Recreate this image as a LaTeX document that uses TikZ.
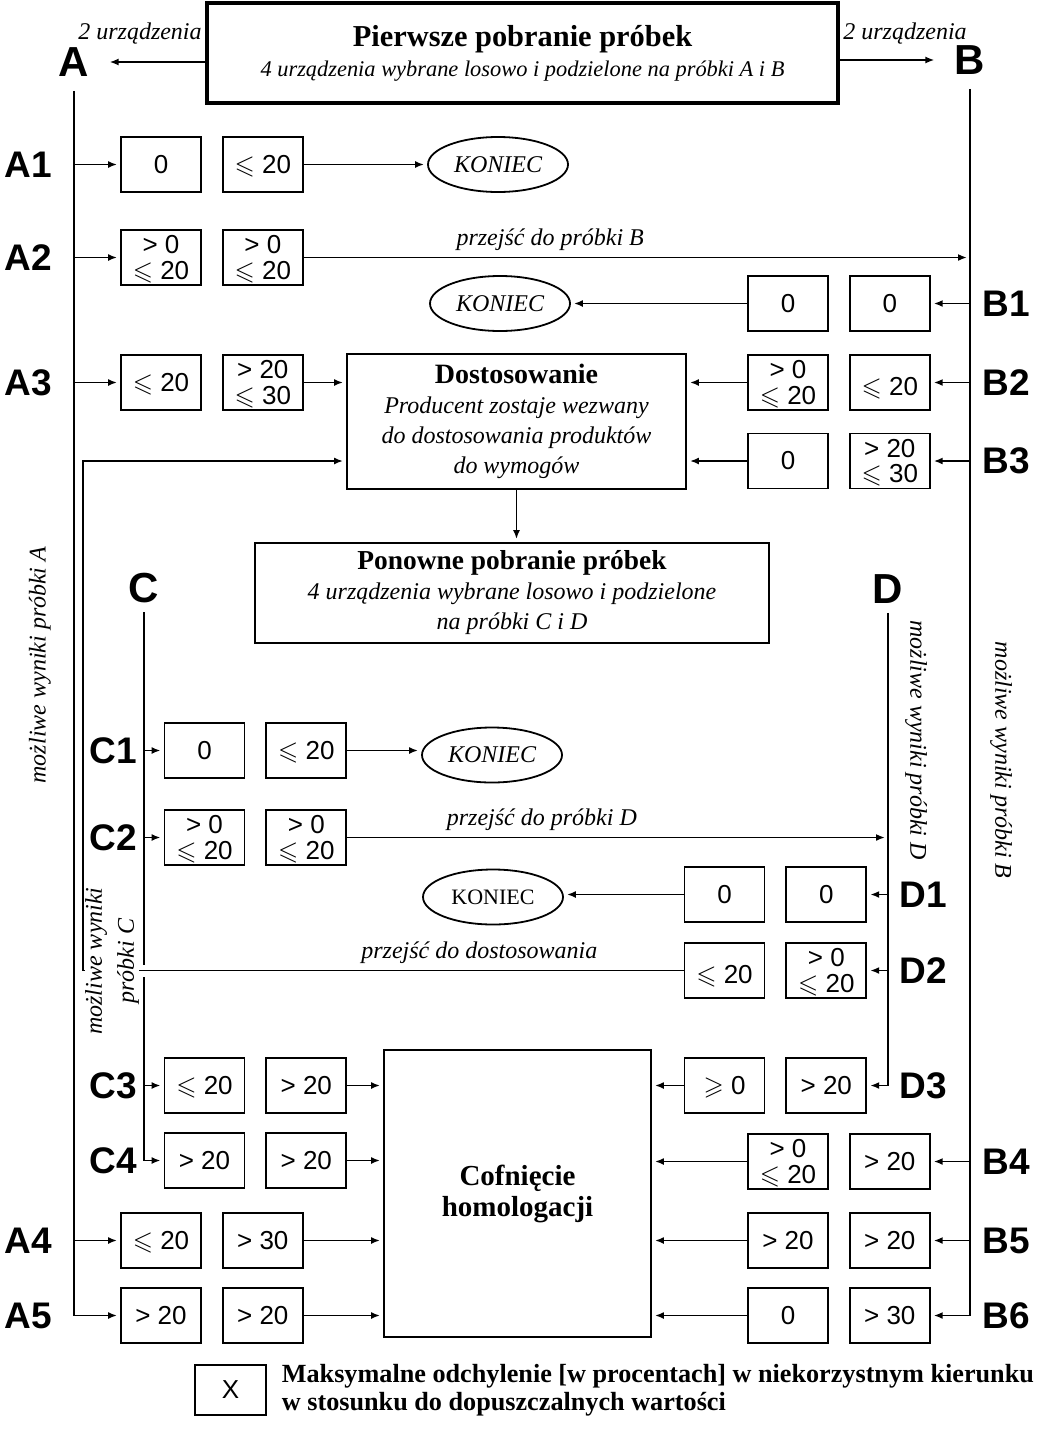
\documentclass[tikz,border=0pt]{standalone}
\usepackage{amsmath,amssymb}
\usepackage{fontspec}
\setmainfont{Liberation Serif}
\setsansfont{Liberation Sans}
\usetikzlibrary{arrows.meta, positioning, shapes.geometric}
\newcommand{\atmost}[1]{\smash{$\leqslant$} #1}
\newcommand{\atleast}[1]{\smash{$\geqslant$} #1}
\tikzset{
    valbox/.style={rectangle, draw=black, line width=0.9pt, minimum width=40pt, minimum height=27.5pt, inner sep=1pt, align=center, font=\sffamily\fontsize{13}{12.8}\selectfont},
    bigbox/.style={rectangle, draw=black, line width=0.9pt, align=center, inner sep=2pt, font=\fontsize{12}{15}\selectfont},
    endnode/.style={ellipse, draw=black, line width=0.9pt, minimum width=70pt, minimum height=27.5pt, inner sep=0pt, font=\itshape\fontsize{12}{14}\selectfont},
    rowlbl/.style={font=\sffamily\bfseries\fontsize{18.5}{18.5}\selectfont, inner sep=1pt},
    sample/.style={font=\sffamily\bfseries\fontsize{21}{21}\selectfont, inner sep=1pt},
    note/.style={font=\itshape\fontsize{12}{14}\selectfont, inner sep=1pt},
    sidenote/.style={note, align=center, fill=white, inner sep=0pt, font=\itshape\fontsize{12}{16}\selectfont},
    arrow/.style={-{Latex[length=4.5pt, width=3.5pt]}, line width=0.9pt, shorten >=1.5pt},
    wire/.style={line width=0.9pt}
}

\begin{document}
\begin{tikzpicture}[x=0.5pt, y=-0.5pt, node distance=10pt]
    \useasboundingbox (0,0) rectangle (1037,1441);

    % first sampling
    \node[bigbox, line width=1.8pt, minimum width=315.5pt, minimum height=50pt] (first) at (522.5,53)
        {{\bfseries\fontsize{15.2}{15.5}\selectfont Pierwsze pobranie próbek}\\{\itshape\fontsize{11.2}{15.5}\selectfont 4 urządzenia wybrane losowo i podzielone na próbki A i B}};
    \node[sample] (A) at (74,62) {A};
    \node[sample] (B) at (970,60) {B};
    \node[note] (twoA) at (140,34) {2 urządzenia};
    \node[note] (twoB) at (905,34) {2 urządzenia};
    \draw[arrow, shorten >=9pt] (first.west |- A) -- (A);
    \draw[arrow, shorten >=9pt] (first.east |- B) -- (B);

    % row labels
    \foreach \t/\x/\y in {A1/28/164.5, A2/28/257.5, A3/28/382.5, A4/28/1240.5, A5/28/1315.5,
        B1/1006/303.5, B2/1006/382.5, B3/1006/461, B4/1006/1161.5, B5/1006/1240.5, B6/1006/1315.5,
        C1/113/750.5, C2/113/837.5, C3/113/1085.5, C4/113/1160.5,
        D1/923/894.5, D2/923/970.5, D3/923/1085.5}
        \node[rowlbl] (lbl\t) at (\x,\y) {\t};

    % sample A
    \node[valbox] (a1l) at (161,164.5) {0};
    \node[valbox, right=of a1l] (a1r) {\atmost{20}};
    \node[endnode] (end1) at (498,164.5) {KONIEC};
    \node[valbox] (a2l) at (161,257.5) {> 0\\\atmost{20}};
    \node[valbox, right=of a2l] (a2r) {> 0\\\atmost{20}};
    \node[valbox] (a3l) at (161,382.5) {\atmost{20}};
    \node[valbox, right=of a3l] (a3r) {> 20\\\atmost{30}};
    \node[valbox] (a4l) at (161,1240.5) {\atmost{20}};
    \node[valbox, right=of a4l] (a4r) {> 30};
    \node[valbox] (a5l) at (161,1315.5) {> 20};
    \node[valbox, right=of a5l] (a5r) {> 20};

    % sample B
    \node[valbox] (b1l) at (788,303.5) {0};
    \node[valbox, right=of b1l] (b1r) {0};
    \node[endnode] (end2) at (500,303.5) {KONIEC};
    \node[valbox] (b2l) at (788,382.5) {> 0\\\atmost{20}};
    \node[valbox, right=of b2l] (b2r) {~\\\atmost{20}};
    \node[valbox] (b3l) at (788,461) {0};
    \node[valbox, right=of b3l] (b3r) {> 20\\\atmost{30}};
    \node[valbox] (b4l) at (788,1161.5) {> 0\\\atmost{20}};
    \node[valbox, right=of b4l] (b4r) {> 20};
    \node[valbox] (b5l) at (788,1240.5) {> 20};
    \node[valbox, right=of b5l] (b5r) {> 20};
    \node[valbox] (b6l) at (788,1315.5) {0};
    \node[valbox, right=of b6l] (b6r) {> 30};

    % adjustment and second sampling
    \node[bigbox, minimum width=169.5pt, minimum height=67.5pt] (dost) at (516.5,421.5)
        {{\bfseries\fontsize{14}{15}\selectfont Dostosowanie}\\{\itshape Producent zostaje wezwany}\\{\itshape do dostosowania produktów}\\{\itshape do wymogów}};
    \node[bigbox, minimum width=257pt, minimum height=50pt] (pon) at (512,593)
        {{\bfseries\fontsize{13.7}{15}\selectfont Ponowne pobranie próbek}\\{\itshape 4 urządzenia wybrane losowo i podzielone}\\{\itshape na próbki C i D}};
    \node[bigbox, minimum width=133.5pt, minimum height=143.5pt, font=\bfseries\fontsize{14.5}{15.5}\selectfont] (cof) at (517.5,1193.5)
        {Cofnięcie\\homologacji};
    \node[sample] (C) at (144,588) {C};
    \node[sample] (D) at (888,589) {D};

    % sample C
    \node[valbox] (c1l) at (204.5,750.5) {0};
    \node[valbox, right=of c1l] (c1r) {\atmost{20}};
    \node[endnode] (end3) at (492,755) {KONIEC};
    \node[valbox] (c2l) at (204.5,837.5) {> 0\\\atmost{20}};
    \node[valbox, right=of c2l] (c2r) {> 0\\\atmost{20}};
    \node[valbox] (c3l) at (204.5,1085.5) {\atmost{20}};
    \node[valbox, right=of c3l] (c3r) {> 20};
    \node[valbox] (c4l) at (204.5,1160.5) {> 20};
    \node[valbox, right=of c4l] (c4r) {> 20};

    % sample D
    \node[valbox] (d1l) at (724.5,894.5) {0};
    \node[valbox, right=of d1l] (d1r) {0};
    \node[endnode, font=\fontsize{11}{13}\selectfont] (end4) at (493,897) {KONIEC};
    \node[valbox] (d2l) at (724.5,970.5) {~\\\atmost{20}};
    \node[valbox, right=of d2l] (d2r) {> 0\\\atmost{20}};
    \node[valbox] (d3l) at (724.5,1085.5) {\atleast{0}};
    \node[valbox, right=of d3l] (d3r) {> 20};

    % sample lines
    \draw[arrow] ([yshift=-6pt]A.south) |- (a5l);
    \foreach \r in {a1l,a2l,a3l,a4l}
        \draw[arrow] (A.south |- \r) -- (\r);
    \draw[arrow] ([yshift=-6pt]B.south) |- (b6r);
    \foreach \r in {b1r,b2r,b3r,b4r,b5r}
        \draw[arrow] (B.south |- \r) -- (\r);
    \draw[arrow] ([yshift=-3.5pt]C.south) |- (c4l);
    \foreach \r in {c1l,c2l,c3l}
        \draw[arrow] (C.south |- \r) -- (\r);
    \draw[arrow] ([yshift=-3.5pt]D.south) |- (d3r);
    \foreach \r in {d1r,d2r}
        \draw[arrow] (D.south |- \r) -- (\r);

    % results
    \draw[arrow] (a1r) -- (end1);
    \draw[arrow] (a2r) -- node[note, above, pos=0.37, yshift=2pt] (goB) {przejść do próbki B} (a2r -| B.south);
    \draw[arrow] (b1l) -- (end2);
    \draw[arrow] (a3r) -- (a3r -| dost.west);
    \draw[arrow] (b2l) -- (b2l -| dost.east);
    \draw[arrow] (b3l) -- (b3l -| dost.east);
    \draw[arrow] (dost.south) -- (dost.south |- pon.north);
    \draw[arrow] (c1r) -- (c1r -| end3.west);
    \draw[arrow] (c2r) -- node[note, above, pos=0.36, yshift=2pt] (goD) {przejść do próbki D} (c2r -| D.south);
    \draw[arrow] (d1l) -- (d1l -| end4.east);
    \coordinate (back) at (83,461);
    \draw[arrow, preaction={draw=white, line width=6pt, -, shorten <=2pt}] (d2l) -- node[note, above, pos=0.34, yshift=2pt] (goAdj) {przejść do dostosowania} (d2l -| back) |- (dost.west |- back);
    \foreach \r in {c3r,c4r,a4r,a5r}
        \draw[arrow] (\r) -- (\r -| cof.west);
    \foreach \r in {d3l,b4l,b5l,b6l}
        \draw[arrow] (\r) -- (\r -| cof.east);

    % side notes
    \node[note, rotate=90] (noteA) at (40,665) {możliwe wyniki próbki A};
    \node[note, rotate=-90] (noteB) at (1001,760) {możliwe wyniki próbki B};
    \node[note, rotate=-90] (noteD) at (916,740) {możliwe wyniki próbki D};
    \node[sidenote, rotate=90] (noteC) at (112,961) {możliwe wyniki\\próbki C};

    % key
    \node[valbox, minimum width=35.5pt, minimum height=25pt] (key) at (230.5,1390) {X};
    \node[right=4pt of key, align=left, inner sep=3.3pt, font=\bfseries\fontsize{13.1}{14}\selectfont] (keytext)
        {Maksymalne odchylenie [w procentach] w niekorzystnym kierunku\\w stosunku do dopuszczalnych wartości};
\end{tikzpicture}
\end{document}
